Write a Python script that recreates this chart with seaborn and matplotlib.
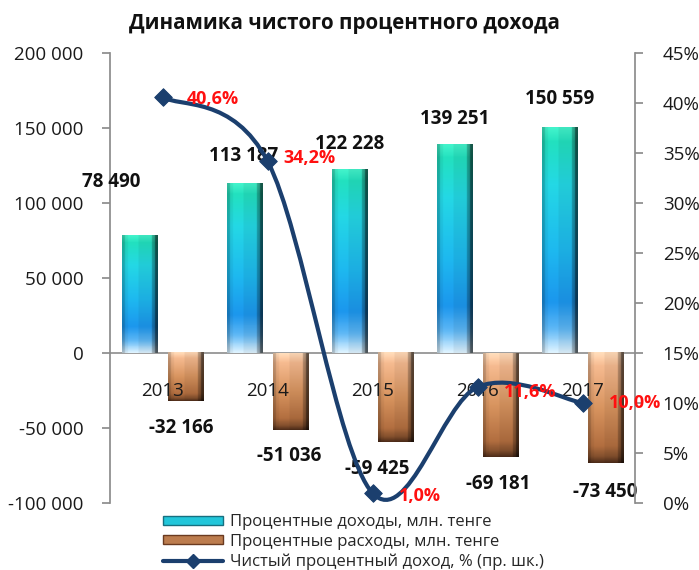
import numpy as np
import pandas as pd
import matplotlib
matplotlib.use("Agg")
import matplotlib.pyplot as plt
import seaborn as sns
from matplotlib.colors import LinearSegmentedColormap
from matplotlib.path import Path
from matplotlib.patches import PathPatch, Patch
from matplotlib.lines import Line2D
from matplotlib.ticker import FuncFormatter, MultipleLocator

# ---------------- data ----------------
years = ["2013", "2014", "2015", "2016", "2017"]
income = [78490, 113187, 122228, 139251, 150559]
expense = [-32166, -51036, -59425, -69181, -73450]
nim_pct = [40.6, 34.2, 1.0, 11.6, 10.0]
income_name = "Процентные доходы, млн. тенге"
expense_name = "Процентные расходы, млн. тенге"
line_name = "Чистый процентный доход, % (пр. шк.)"
title = "Динамика чистого процентного дохода"
income_labels = ["78 490", "113 187", "122 228", "139 251", "150 559"]
expense_labels = ["-32 166", "-51 036", "-59 425", "-69 181", "-73 450"]
pct_labels = ["40,6%", "34,2%", "1,0%", "11,6%", "10,0%"]

# ---------------- style ----------------
income_offsets = [(-28, 53), (-1, 27), (0, 26), (0, 25), (0, 28)]
expense_offsets = [(-4, -27), (-1, -26), (-18, -27), (-2, -27), (0, -29)]
pct_offsets = [(50, -2), (42, 3), (47, -3), (53, -5), (53, 0)]
LINE_C = "#1B3F6E"
GRAY = "#8C8C8C"

sns.set_theme(style="white")
plt.rcParams["font.family"] = ["Open Sans", "DejaVu Sans"]

df = pd.DataFrame({
    "year": years * 2,
    "value": income + expense,
    "series": [income_name] * len(years) + [expense_name] * len(years),
})

fig = plt.figure(figsize=(6.99, 5.70), dpi=100)
ax = fig.add_axes([110 / 699, 1 - 503 / 570, 525 / 699, 450 / 570])

sns.barplot(data=df, x="year", y="value", hue="series",
            hue_order=[income_name, expense_name],
            palette=["#1EB0E0", "#C98A58"], width=0.88, gap=0.24,
            ax=ax, legend=False, zorder=3, linewidth=0)

inc_cmap = LinearSegmentedColormap.from_list("inc", [
    (0.0, "#3FE6C0"), (0.06, "#20D4B4"), (0.25, "#22CCD8"),
    (0.55, "#1CAEE2"), (0.78, "#1A8EE0"), (0.9, "#5AAEE8"), (1.0, "#D2E6F2")])
exp_cmap = LinearSegmentedColormap.from_list("exp", [
    (0.0, "#F6D2B2"), (0.12, "#E8B088"), (0.5, "#CC8C5A"),
    (0.85, "#A8683C"), (0.95, "#7A4A2A"), (1.0, "#4A2A18")])


def gradient_img(cmap, nrow=120, ncol=24):
    t = np.linspace(0, 1, nrow)
    col = cmap(t)[:, :3]
    u = np.linspace(0, 1, ncol)
    shade = np.ones(ncol)
    shade[u < 0.06] = 0.82
    shade[(u > 0.15) & (u < 0.45)] = 1.06
    shade[u > 0.86] = 0.72
    shade[u > 0.93] = 0.38
    img = col[:, None, :] * shade[None, :, None]
    return np.clip(img, 0, 1)


bars = list(ax.patches)
inc_bars = [b for b in bars if b.get_height() > 0]
exp_bars = [b for b in bars if b.get_height() < 0]
for b in bars:
    x0, w, h = b.get_x(), b.get_width(), b.get_height()
    top, bot = (h, 0) if h > 0 else (0, h)
    img = gradient_img(inc_cmap if h > 0 else exp_cmap)
    ax.imshow(img, extent=[x0, x0 + w, bot, top], origin="upper",
              aspect="auto", zorder=3.2, interpolation="bilinear")

ax.set_xlim(-0.5, len(years) - 0.5)
ax.set_ylim(-100000, 200000)
ax.yaxis.set_major_locator(MultipleLocator(50000))
ax.yaxis.set_major_formatter(FuncFormatter(lambda v, _: f"{int(v):,}".replace(",", " ")))
ax.axhline(0, color=GRAY, lw=1.2, zorder=2)
for s in ["top", "right", "bottom"]:
    ax.spines[s].set_visible(False)
ax.spines["left"].set_color(GRAY)
ax.tick_params(axis="y", left=True, length=6, color=GRAY, labelsize=13.5,
               labelcolor="#1A1A1A", pad=13)
ax.tick_params(axis="x", bottom=False, labelbottom=False)
ax.set_xlabel("")
ax.set_ylabel("")

for i, y in enumerate(years):
    ax.annotate(y, xy=(i, 0), xytext=(0, -38), textcoords="offset pixels",
                ha="center", va="center", fontsize=13.5, color="#1A1A1A", zorder=5)

for b, lab, (dx, dy) in zip(inc_bars, income_labels, income_offsets):
    ax.annotate(lab, xy=(b.get_x() + b.get_width() / 2, b.get_height()),
                xytext=(dx, dy), textcoords="offset pixels", ha="center",
                va="center", fontsize=13.5, fontweight="bold", color="#111111", zorder=6)
for b, lab, (dx, dy) in zip(exp_bars, expense_labels, expense_offsets):
    ax.annotate(lab, xy=(b.get_x() + b.get_width() / 2, b.get_height()),
                xytext=(dx, dy), textcoords="offset pixels", ha="center",
                va="center", fontsize=13.5, fontweight="bold", color="#111111", zorder=6)

# ---------------- secondary axis ----------------
ax2 = ax.twinx()
ax2.set_ylim(0, 45)
ax2.yaxis.set_major_locator(MultipleLocator(5))
ax2.yaxis.set_major_formatter(FuncFormatter(lambda v, _: f"{int(round(v))}%"))
for s in ["top", "left", "bottom"]:
    ax2.spines[s].set_visible(False)
ax2.spines["right"].set_color(GRAY)
ax2.tick_params(axis="y", right=True, length=6, color=GRAY, labelsize=13.5,
                labelcolor="#1A1A1A", pad=14)
ax2.grid(False)
ax.grid(False)

P = np.column_stack([np.arange(len(years)), nim_pct]).astype(float)
verts = [P[0]]
codes = [Path.MOVETO]
for i in range(len(P) - 1):
    p0 = P[i - 1] if i > 0 else P[i]
    p3 = P[i + 2] if i + 2 < len(P) else P[i + 1]
    verts += [P[i] + (P[i + 1] - p0) / 6, P[i + 1] - (p3 - P[i]) / 6, P[i + 1]]
    codes += [Path.CURVE4] * 3
ax2.add_patch(PathPatch(Path(verts, codes), fill=False, edgecolor=LINE_C,
                        lw=3, zorder=3, capstyle="round"))
sns.scatterplot(x=np.arange(len(years)), y=nim_pct, marker="D", s=80,
                color=LINE_C, edgecolor=LINE_C, ax=ax2, zorder=4, legend=False)
for i, (v, lab, (dx, dy)) in enumerate(zip(nim_pct, pct_labels, pct_offsets)):
    ax2.annotate(lab, xy=(i, v), xytext=(dx, dy), textcoords="offset pixels",
                 ha="center", va="center", fontsize=13, fontweight="bold",
                 color="#FF1010", zorder=6)
ax2.set_xlim(-0.5, len(years) - 0.5)
ax2.set_ylim(0, 45)
ax2.set_ylabel("")

# ---------------- title & legend ----------------
fig.text(0.493, 1 - 23 / 570, title, ha="center", va="center",
         fontsize=14.8, fontweight="bold", color="#111111")

handles = [
    Patch(facecolor="#22C6DA", edgecolor="#167080", lw=1),
    Patch(facecolor="#BC7C4E", edgecolor="#6A3A20", lw=1),
    Line2D([], [], color=LINE_C, lw=3, marker="D", markersize=7),
]
fig.legend(handles, [income_name, expense_name, line_name], loc="upper left",
           bbox_to_anchor=(163 / 699, 1 - 514 / 570), frameon=False,
           fontsize=12, handlelength=3.6, handleheight=0.45, labelspacing=0.22,
           handletextpad=0.4, borderaxespad=0, borderpad=0)

fig.savefig("out.png", dpi=100)
